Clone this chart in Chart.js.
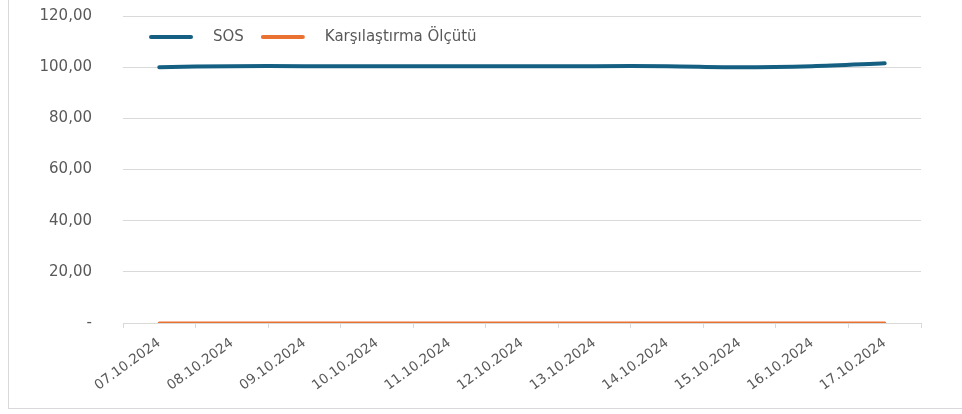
<!DOCTYPE html>
<html>
<head>
<meta charset="utf-8">
<script src="https://cdn.jsdelivr.net/npm/chart.js@4"></script>
<style>
    html, body { margin: 0; padding: 0; background: #fff; overflow: hidden; }
    #quadro {
        position: absolute; left: 8px; top: -2px;
        width: 960px; height: 411px;
        border: 1px solid #d9d9d9; box-sizing: border-box;
    }
    #caixa { position: absolute; left: 0; top: 0; width: 962px; height: 414px; }
</style>
</head>
<body>
<div id="quadro"></div>
<div id="caixa"><canvas id="grafico-linha"></canvas></div>
<script>
// dados
const DATAS = ['07.10.2024', '08.10.2024', '09.10.2024', '10.10.2024', '11.10.2024', '12.10.2024',
               '13.10.2024', '14.10.2024', '15.10.2024', '16.10.2024', '17.10.2024'];
const SOS = [100.0, 100.4, 100.4, 100.4, 100.4, 100.4, 100.4, 100.4, 100.0, 100.4, 101.5];
const OLCUT = [0, 0, 0, 0, 0, 0, 0, 0, 0, 0, 0];
const NOMES = ['SOS', 'Karşılaştırma Ölçütü'];
const CORES = ['#156082', '#e97132'];

const FONTE = '"DejaVu Sans", "Liberation Sans", sans-serif';
const CINZA = '#595959';
const TOPO = 16; // onde fica a linha do 120,00

// legenda desenhada dentro da área do gráfico, como no Excel
const legendaInterna = {
    id: 'legendaInterna',
    afterDraw: function(chart) {
        var ctx = chart.ctx;
        var x = chart.chartArea.left + 28, y = chart.chartArea.top + 21;
        ctx.save();
        ctx.font = '15px ' + FONTE;
        ctx.textBaseline = 'middle';
        chart.data.datasets.forEach(function(ds) {
            ctx.strokeStyle = ds.borderColor;
            ctx.lineWidth = 4;
            ctx.lineCap = 'round';
            ctx.beginPath();
            ctx.moveTo(x, y);
            ctx.lineTo(x + 40, y);
            ctx.stroke();
            ctx.fillStyle = CINZA;
            ctx.fillText(ds.label, x + 62, y);
            x = x + 62 + ctx.measureText(ds.label).width + 19;
        });
        ctx.restore();
    }
};

var grafico = new Chart(document.getElementById('grafico-linha'), {
    type: 'line',
    data: {
        labels: DATAS,
        datasets: [
            { label: NOMES[0], data: SOS, borderColor: CORES[0], backgroundColor: CORES[0],
              borderWidth: 4, pointRadius: 0, tension: 0.3, borderCapStyle: 'round' },
            { label: NOMES[1], data: OLCUT, borderColor: CORES[1], backgroundColor: CORES[1],
              borderWidth: 3, pointRadius: 0, tension: 0, borderCapStyle: 'round' }
        ]
    },
    options: {
        responsive: true,
        maintainAspectRatio: false,
        animation: false,
        layout: { padding: { top: 0, right: 41, bottom: 0, left: 0 } },
        plugins: { legend: { display: false }, tooltip: { enabled: false } },
        scales: {
            x: {
                offset: true,
                grid: { display: true, drawOnChartArea: false, drawTicks: true, tickLength: 5,
                        offset: true, color: '#d9d9d9' },
                border: { display: true, color: '#d9d9d9' },
                ticks: { color: CINZA, font: { family: FONTE, size: 13.6 }, autoSkip: false,
                         minRotation: 36, maxRotation: 36, padding: 7 },
                afterFit: function(scale) { scale.height = 91; }
            },
            y: {
                min: 0, max: 120,
                grid: { color: '#d9d9d9', drawTicks: false },
                border: { display: false },
                ticks: {
                    stepSize: 20, color: CINZA, padding: 31,
                    font: { family: FONTE, size: 15 },
                    callback: function(v) { return v === 0 ? '-' : v.toFixed(2).replace('.', ','); }
                },
                afterFit: function(scale) { scale.width = 123; }
            }
        }
    },
    plugins: [legendaInterna]
});

// o Chart.js deixa uma folga em cima; sobe o canvas para a área começar em TOPO
var caixa = document.getElementById('caixa');
for (var i = 0; i < 3; i++) {
    var sobra = grafico.chartArea.top - TOPO + (parseFloat(caixa.style.top) || 0);
    caixa.style.top = (-sobra) + 'px';
    caixa.style.height = (414 + sobra) + 'px';
    grafico.resize();
}
</script>
</body>
</html>
